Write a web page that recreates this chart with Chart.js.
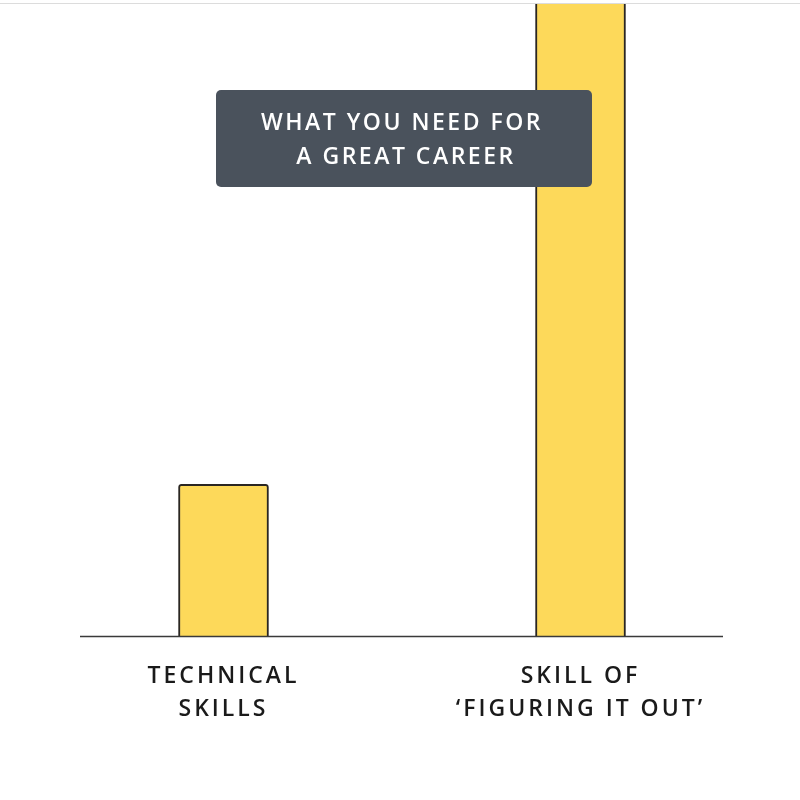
<!DOCTYPE html>
<html>
<head>
<meta charset="utf-8">
<script src="https://cdn.jsdelivr.net/npm/chart.js@4/dist/chart.umd.min.js"></script>
<style>
  html,body{margin:0;padding:0;background:#fff;}
  #wrap{width:800px;height:800px;position:relative;}
</style>
</head>
<body>
<div id="wrap"><canvas id="c" width="800" height="800"></canvas></div>
<script>
const categories = [['TECHNICAL', 'SKILLS'], ['SKILL OF', '\u2018FIGURING IT OUT\u2019']];
const values = [24, 110];
const titleLines = ['WHAT YOU NEED FOR', 'A GREAT CAREER'];

const FONT = '"Open Sans", "DejaVu Sans", sans-serif';

const decor = {
  id: 'decor',
  beforeDraw(chart) {
    const ctx = chart.ctx;
    ctx.save();
    ctx.fillStyle = '#ffffff';
    ctx.fillRect(0, 0, chart.width, chart.height);
    ctx.restore();
    ctx.letterSpacing = '3px';
  },
  afterDatasetsDraw(chart) {
    const ctx = chart.ctx;
    const area = chart.chartArea;
    ctx.save();
    // baseline
    ctx.strokeStyle = '#3a3a3a';
    ctx.lineWidth = 1.5;
    ctx.beginPath();
    ctx.moveTo(area.left + 35, area.bottom + 0.5);
    ctx.lineTo(area.right - 36, area.bottom + 0.5);
    ctx.stroke();
    // top rule
    ctx.strokeStyle = '#dcdcdc';
    ctx.lineWidth = 1;
    ctx.beginPath();
    ctx.moveTo(0, 3.5);
    ctx.lineTo(chart.width, 3.5);
    ctx.stroke();
    // title box
    ctx.fillStyle = '#4a525c';
    ctx.beginPath();
    ctx.roundRect(216, 90, 376, 97, 5);
    ctx.fill();
    ctx.fillStyle = '#ffffff';
    ctx.font = '600 23px ' + FONT;
    ctx.letterSpacing = '2.5px';
    ctx.textAlign = 'center';
    ctx.textBaseline = 'middle';
    ctx.fillText(titleLines[0], 402, 123);
    ctx.fillText(titleLines[1], 406, 157);
    ctx.restore();
  }
};

new Chart(document.getElementById('c'), {
  type: 'bar',
  data: {
    labels: categories,
    datasets: [{
      data: values,
      backgroundColor: '#fdd95a',
      borderColor: '#2a2622',
      borderWidth: 2,
      borderSkipped: 'bottom',
      borderRadius: {topLeft: 3, topRight: 3, bottomLeft: 0, bottomRight: 0},
      barThickness: 90
    }]
  },
  options: {
    responsive: false,
    animation: false,
    devicePixelRatio: 1,
    layout: { padding: { left: 45, right: 41, top: 4, bottom: 0 } },
    plugins: { legend: { display: false }, tooltip: { enabled: false }, title: { display: false } },
    scales: {
      x: {
        grid: { display: false, drawTicks: false },
        border: { display: false },
        ticks: {
          color: '#1a1a1a',
          font: { family: FONT, size: 23, weight: '600', lineHeight: 1.43 },
          padding: 24,
          maxRotation: 0
        },
        afterFit(scale) { scale.height = 164; }
      },
      y: {
        display: false,
        min: 0,
        max: 100
      }
    }
  },
  plugins: [decor]
});
</script>
</body>
</html>
